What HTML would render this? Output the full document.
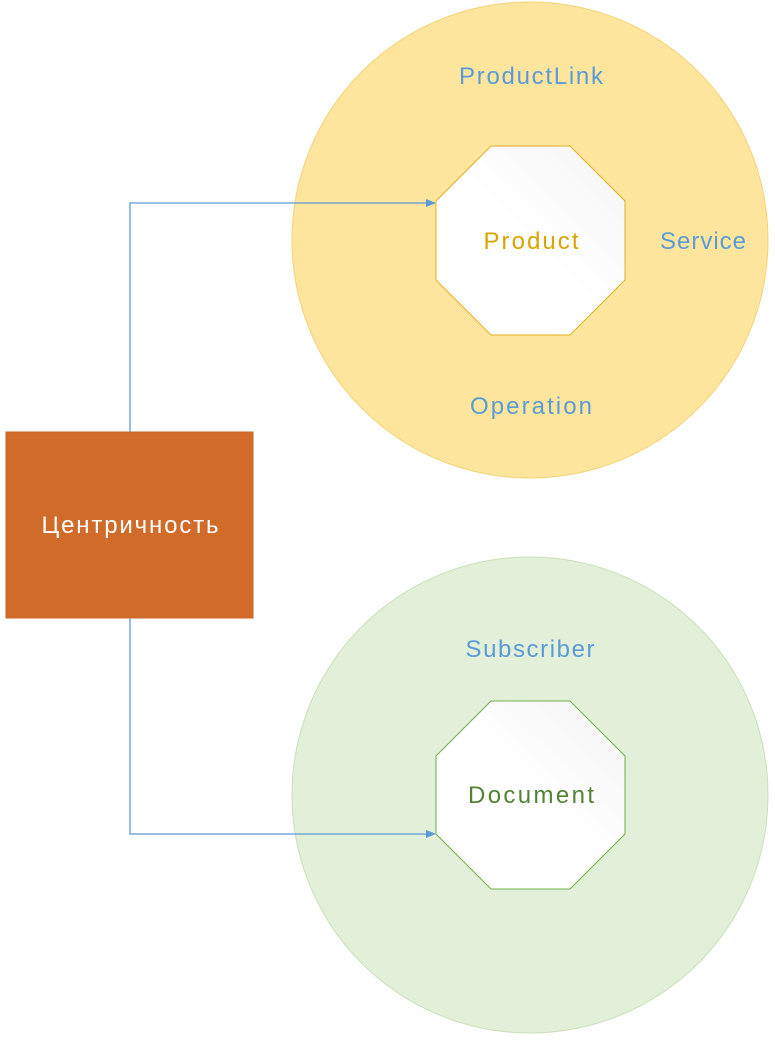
<!DOCTYPE html>
<html><head><meta charset="utf-8"><style>html,body{margin:0;padding:0;background:#fff}</style></head>
<body>
<svg width="775" height="1043" viewBox="0 0 775 1043" xmlns="http://www.w3.org/2000/svg" font-family="Liberation Sans, sans-serif">
<defs>
<linearGradient id="g" x1="1" y1="0" x2="0" y2="1"><stop offset="0" stop-color="#f4f4f4"/><stop offset="0.5" stop-color="#fff"/></linearGradient>
<marker id="a" markerWidth="10" markerHeight="10" refX="9" refY="5" orient="auto" markerUnits="userSpaceOnUse"><path d="M0,1 L10,5 L0,9 z" fill="#5b9bd5"/></marker>
</defs>
<circle cx="530" cy="240" r="238" fill="#fee59d" stroke="#f3d27a" stroke-width="1"/>
<circle cx="530" cy="795" r="238" fill="#e2efd9" stroke="#c9e0b9" stroke-width="1"/>
<polygon points="491,146 570,146 625,201 625,280 570,335 491,335 436,280 436,201" fill="url(#g)" stroke="#e0b020" stroke-width="1"/>
<polygon points="491,701 570,701 625,756 625,834 570,889 491,889 436,834 436,756" fill="url(#g)" stroke="#70ad47" stroke-width="1"/>
<rect x="6" y="432" width="247" height="186" fill="#d06b2a" stroke="#c86427"/>
<polyline points="130,432 130,203 435,203" fill="none" stroke="#5b9bd5" stroke-width="1.3" marker-end="url(#a)"/>
<polyline points="130,618 130,834 435,834" fill="none" stroke="#5b9bd5" stroke-width="1.3" marker-end="url(#a)"/>
<g font-size="24" text-anchor="middle" lengthAdjust="spacing">
<text x="531" y="84" fill="#5b9bd5" textLength="144">ProductLink</text>
<text x="703" y="249" fill="#5b9bd5" textLength="86">Service</text>
<text x="531" y="414" fill="#5b9bd5" textLength="122">Operation</text>
<text x="531" y="249" fill="#d9a400" textLength="95">Product</text>
<text x="530" y="657" fill="#5b9bd5" textLength="129">Subscriber</text>
<text x="531" y="803" fill="#548235" textLength="126">Document</text>
<text x="130" y="533" fill="#fff" textLength="177">Центричность</text>
</g>
</svg>
</body></html>
